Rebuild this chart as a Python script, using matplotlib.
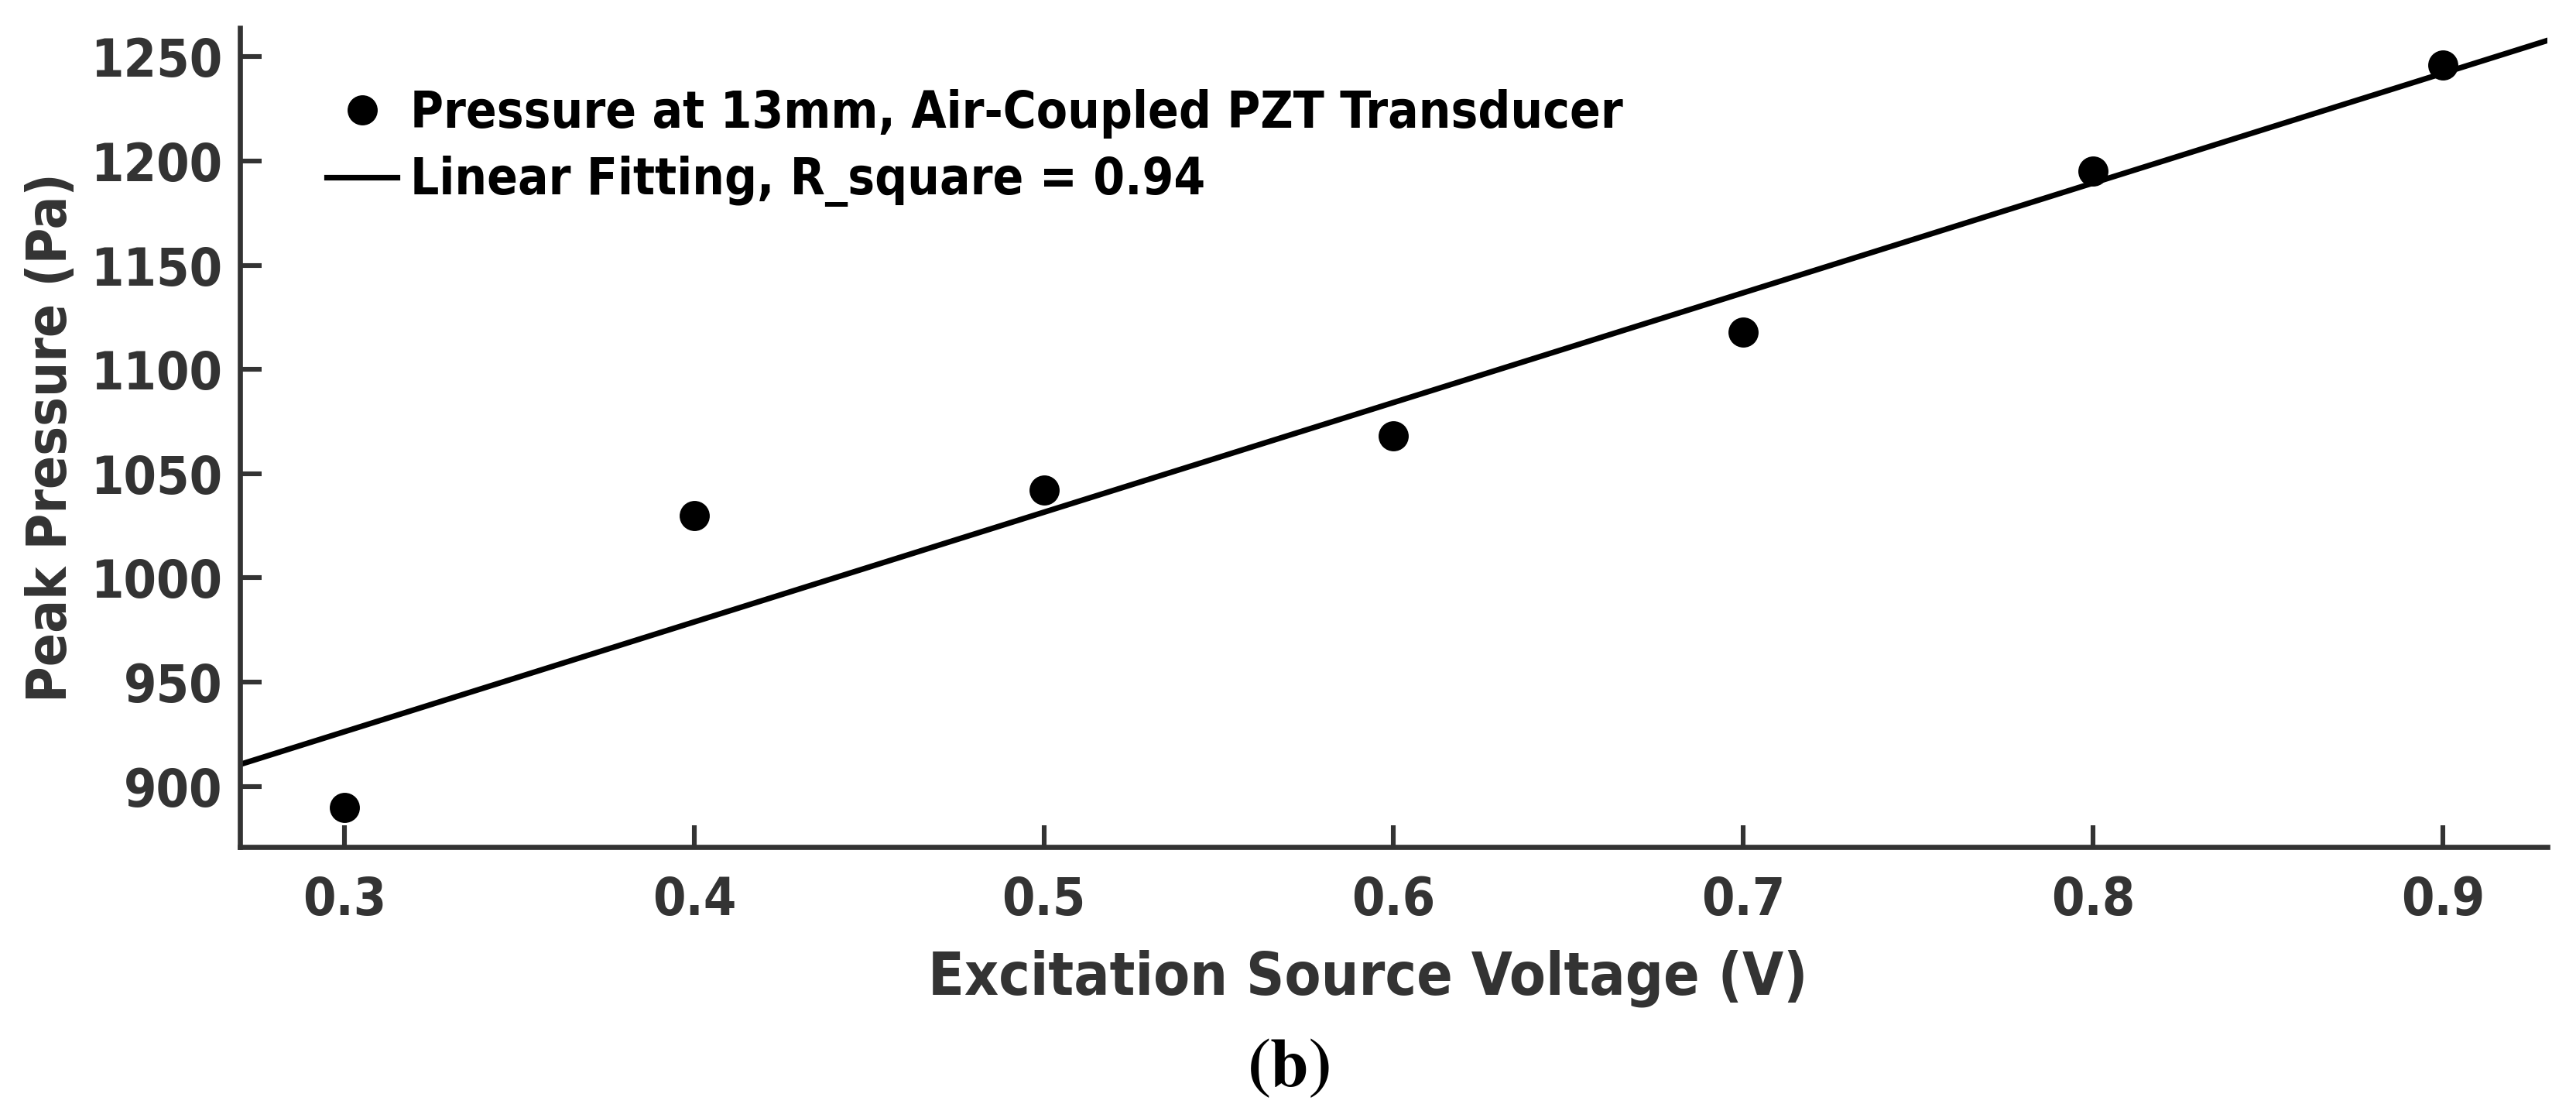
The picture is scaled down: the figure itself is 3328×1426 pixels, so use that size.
import numpy as np
import matplotlib
matplotlib.use("Agg")
import matplotlib.pyplot as plt

# ---- data ----
voltage = [0.3, 0.4, 0.5, 0.6, 0.7, 0.8, 0.9]
pressure = [890, 1030, 1042, 1068, 1118, 1195, 1246]
x_ticks = [0.3, 0.4, 0.5, 0.6, 0.7, 0.8, 0.9]
y_ticks = [900, 950, 1000, 1050, 1100, 1150, 1200, 1250]

INK = "#333333"

plt.rcParams["font.family"] = ["DejaVu Sans"]
plt.rcParams["font.weight"] = "bold"
plt.rcParams["font.stretch"] = "condensed"
plt.rcParams["mathtext.fontset"] = "stix"

fig = plt.figure(figsize=(16.64, 7.13), dpi=200)
ax = fig.add_axes([0.093, 0.233, 0.896, 0.742])

# linear fit straight from the points
slope, icpt = np.polyfit(voltage, pressure, 1)
xl = np.array([0.27, 0.93])

ax.plot(voltage, pressure, "o", color="black", ms=13,
        label="Pressure at 13mm, Air-Coupled PZT Transducer")
ax.plot(xl, slope * xl + icpt, "-", color="black", lw=2.6,
        label="Linear Fitting, R_square = 0.94")

ax.set_xlim(0.27, 0.93)
ax.set_ylim(871, 1264)
ax.set_xticks(x_ticks)
ax.set_yticks(y_ticks)
ax.set_xticklabels([f"{t:.1f}" for t in x_ticks])

for side in ["top", "right"]:
    ax.spines[side].set_visible(False)
for side in ["left", "bottom"]:
    ax.spines[side].set_linewidth(2.4)
    ax.spines[side].set_color(INK)

ax.tick_params(direction="in", length=10, width=2.2, color=INK,
               labelsize=24.5, labelcolor=INK)
ax.tick_params(axis="x", pad=13)
ax.tick_params(axis="y", pad=8)

ax.set_xlabel("Excitation Source Voltage (V)", fontsize=27.5,
              fontweight="bold", color=INK)
ax.set_ylabel("Peak Pressure (Pa)", fontsize=25.5, fontweight="bold",
              color=INK)
ax.xaxis.set_label_coords(0.489, -0.125)
ax.yaxis.set_label_coords(-0.07, 0.5)

leg = ax.legend(loc="upper left", frameon=False, fontsize=23.5,
                bbox_to_anchor=(0.018, 0.981), handlelength=1.4,
                handletextpad=0.25, labelspacing=0.35)
for t in leg.get_texts():
    t.set_fontweight("bold")
    t.set_color("black")

fig.text(0.5, 0.033, r"$(\mathbf{b})$", ha="center", va="center",
         fontsize=32, color="black")

fig.savefig("out.png", dpi=200, facecolor="white")
